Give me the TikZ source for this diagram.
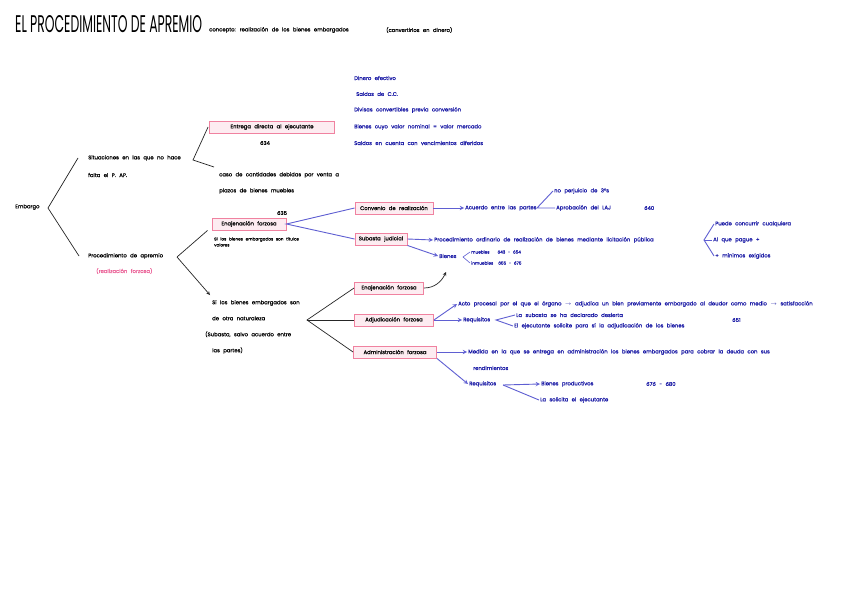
\documentclass[tikz,border=0pt]{standalone}
\usepackage{fontspec}
\setmainfont{Poppins}[WordSpace=2.4,FakeBold=0.6]
\newfontfamily\titlefont{Poppins}
\usepackage{graphicx}
\usepackage{tikz}
\definecolor{boxpink}{RGB}{240,130,160}
\definecolor{boxfill}{RGB}{253,236,241}
\definecolor{inkblue}{RGB}{25,25,165}
\definecolor{lineblue}{RGB}{95,95,210}
\definecolor{pinkink}{RGB}{235,95,150}

\begin{document}
\begin{tikzpicture}[x=1pt,y=-1pt,
    txt/.style={font=\fontsize{5.3}{6}\selectfont,inner sep=1pt,align=left},
    btxt/.style={txt,text=inkblue},
    box/.style={txt,draw=boxpink,fill=boxfill,line width=0.9pt,minimum height=12pt},
    ln/.style={line width=0.7pt,black!85},
    bln/.style={line width=0.9pt,lineblue},
    barr/.style={bln,-stealth}]
    \fill[white] (0,0) rectangle (848,599);
    \useasboundingbox (0,0) rectangle (848,599);

    \node[anchor=west,inner sep=0pt] (titulo) at (15,24) {\resizebox{187pt}{17pt}{\titlefont EL PROCEDIMIENTO DE APREMIO}};
    \node[txt,anchor=west] (concepto) at (208,30) {concepto: realización de los bienes embargados};
    \node[txt,anchor=west] (dinero) at (385,30) {(convertirlos en dinero)};

    \node[txt,anchor=west] (embargo) at (14,207) {Embargo};
    \coordinate (v1) at (48,208);
    \node[txt,anchor=west] (situ) at (87,158) {Situaciones en las que no hace};
    \node[txt,anchor=west] (situb) at (87,175) {falta el P. AP.};
    \node[txt,anchor=west] (proc) at (87,256) {Procedimiento de apremio};
    \node[txt,anchor=west,text=pinkink] (real) at (95,271) {(realización forzosa)};
    \draw[ln] ([xshift=-9pt]situ.west) -- (v1) -- ([xshift=-8pt]proc.west);

    \coordinate (v2) at (193,160);
    \node[box,minimum width=125pt] (entrega) at (272,127) {Entrega directa al ejecutante};
    \node[txt] (a634) at (265,143) {634};
    \node[txt,anchor=west] (plazos) at (218,175) {caso de cantidades debidas por venta a};
    \node[txt,anchor=west] (plazosb) at (218,191) {plazos de bienes muebles};
    \draw[ln] ([xshift=-1pt]entrega.west) -- (v2) -- ([shift={(-4pt,8pt)}]plazos.west);

    \node[btxt,anchor=west] (l1) at (353,78) {Dinero efectivo};
    \node[btxt,anchor=west] (l2) at (355,94) {Saldos de C.C.};
    \node[btxt,anchor=west] (l3) at (353,110) {Divisas convertibles previa conversión};
    \node[btxt,anchor=west] (l4) at (353,127) {Bienes cuyo valor nominal = valor mercado};
    \node[btxt,anchor=west] (l5) at (353,143) {Saldos en cuenta con vencimientos diferidos};

    \coordinate (v3) at (177,257);
    \node[box,minimum width=74pt] (enaj) at (249,224) {Enajenación forzosa};
    \node[txt] (a635) at (282,213) {635};
    \node[txt,anchor=north west,font=\fontsize{4.2}{6}\selectfont] (titulos) at (213,236) {Si los bienes embargados son títulos\\valores};
    \node[txt,anchor=north west,font=\fontsize{5.3}{16}\selectfont] (otra) at (211,299) {Si los bienes embargados son\\de otra naturaleza\\\hspace{-7pt}(Subasta, salvo acuerdo entre\\las partes)};
    \draw[ln] ([xshift=-4pt]enaj.south west) -- (v3);
    \draw[ln,-stealth] (v3) -- ([shift={(-1pt,4pt)}]otra.north west);

    \node[box,minimum width=78pt] (convenio) at (394,208) {Convenio de realización};
    \node[box,minimum width=52pt] (subasta) at (381,239) {Subasta judicial};
    \draw[bln] (convenio.west) -- (enaj.east) -- (subasta.west);

    \node[btxt,anchor=west] (acuerdo) at (464,208) {Acuerdo entre las partes};
    \draw[barr] (convenio.east) -- (acuerdo.west);
    \coordinate (v5) at (537,208);
    \node[btxt,anchor=west] (perjuicio) at (553,191) {no perjuicio de 3ºs};
    \node[btxt,anchor=west] (aprob) at (555,208) {Aprobación del LAJ};
    \node[btxt,anchor=west] (a640) at (643,208) {640};
    \draw[bln] (perjuicio.west) -- (v5) -- (aprob.west);

    \node[btxt,anchor=west] (licit) at (433,240) {Procedimiento ordinario de realización de bienes mediante licitación pública};
    \draw[barr] (subasta.east) -- (licit.west);
    \coordinate (v6) at (704,240);
    \node[btxt,anchor=west] (concurrir) at (714,224) {Puede concurrir cualquiera};
    \node[btxt,anchor=west] (pague) at (712,240) {Al que pague +};
    \node[btxt,anchor=west] (minimos) at (714,256) {+ mínimos exigidos};
    \draw[bln] (concurrir.west) -- (v6) -- (minimos.west);
    \draw[bln] (v6) -- (pague.west);

    \node[btxt,anchor=west] (bienes) at (438,256) {Bienes};
    \draw[barr] (subasta.south east) -- (bienes.west);
    \coordinate (v7) at (463,257);
    \node[btxt,anchor=west,font=\fontsize{4.2}{5}\selectfont] (muebles) at (470,252) {muebles\hspace{8pt}643 - 654};
    \node[btxt,anchor=west,font=\fontsize{4.2}{5}\selectfont] (inmuebles) at (470,263) {inmuebles\hspace{5pt}655 - 675};
    \draw[bln,line width=0.6pt] (muebles.west) -- (v7) -- (inmuebles.west);

    \coordinate (v4) at (307,320);
    \node[box,minimum width=69pt] (enaj2) at (389,288) {Enajenación forzosa};
    \node[box,minimum width=79pt] (adjud) at (394,320) {Adjudicación forzosa};
    \node[box,minimum width=83pt] (admin) at (395,352) {Administración forzosa};
    \draw[ln] (enaj2.west) -- (v4) -- (admin.west);
    \draw[ln] (v4) -- (adjud.west);
    \coordinate (haciabienes) at (446,272);
    \draw[ln,-stealth] (enaj2.east) to[out=0,in=-115] (haciabienes);

    \node[btxt,anchor=west] (acto) at (457,304) {Acto procesal por el que el órgano $\rightarrow$ adjudica un bien previamente embargado al deudor como medio $\rightarrow$ satisfacción};
    \node[btxt,anchor=west] (req1) at (462,320) {Requisitos};
    \draw[barr] (adjud.east) -- (acto.west);
    \draw[barr] (adjud.east) -- (req1.west);
    \coordinate (v8) at (496,320);
    \node[btxt,anchor=west] (desierta) at (515,315) {La subasta se ha declarado desierta};
    \node[btxt,anchor=west] (solicite) at (513,326) {El ejecutante solicite para sí la adjudicación de los bienes};
    \node[btxt,anchor=west] (a651) at (731,320) {651};
    \draw[bln] (desierta.west) -- (v8) -- (solicite.west);

    \node[btxt,anchor=west] (medida) at (467,352) {Medida en la que se entrega en administración los bienes embargados para cobrar la deuda con sus};
    \node[btxt,anchor=west] (rend) at (472,368) {rendimientos};
    \draw[barr] (admin.east) -- (medida.west);
    \node[btxt,anchor=west] (req2) at (468,384) {Requisitos};
    \draw[barr] (admin.south east) -- (req2.west);
    \coordinate (v9) at (503,385);
    \node[btxt,anchor=west] (prod) at (540,384) {Bienes productivos};
    \node[btxt,anchor=west] (a676) at (645,384) {676 - 680};
    \node[btxt,anchor=west] (solic) at (539,400) {La solicita el ejecutante};
    \draw[barr] (v9) -- (prod.west);
    \draw[bln] (v9) -- (solic.west);
\end{tikzpicture}
\end{document}
